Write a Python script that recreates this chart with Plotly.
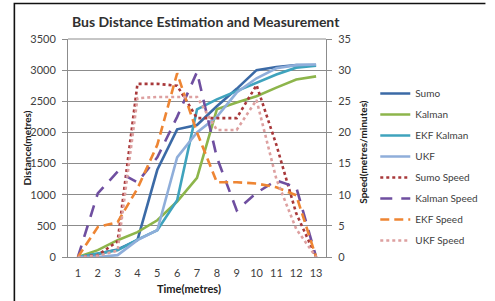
import plotly.graph_objects as go

time = list(range(1, 14))
tick_labels = [str(t) for t in time]

sumo = [0, 50, 120, 270, 1400, 2050, 2120, 2420, 2700, 3000, 3050, 3080, 3080]
kalman = [0, 110, 270, 400, 590, 890, 1270, 2370, 2480, 2580, 2720, 2850, 2900]
ekf_kalman = [0, 60, 110, 280, 430, 910, 2370, 2530, 2660, 2800, 2930, 3040, 3070]
ukf = [0, 0, 30, 270, 430, 1600, 2000, 2250, 2640, 2870, 3030, 3080, 3090]

sumo_speed = [0, 0.3, 2.5, 27.8, 27.8, 27.5, 22.3, 22.3, 22.3, 27.6, 18, 7, 0]
kalman_speed = [0, 10.2, 13.7, 12, 16, 22.5, 29.7, 16, 7.5, 10.3, 12.3, 11.2, 0]
ekf_speed = [0, 4.8, 5.6, 11, 18, 29.5, 20, 12, 12, 11.8, 11.2, 9.9, 0]
ukf_speed = [0, 0.2, 1, 25.5, 25.7, 25.7, 25.7, 20.4, 20.4, 25.2, 12.5, 4.5, 0]

FONT = "Lato"
W, H = 495, 301
ML, MR, MT, MB = 68, 160, 39, 44
PW = W - ML - MR
PH = H - MT - MB

def px_x(p):
    return (p - ML) / PW

def px_y(p):
    return (H - MB - p) / PH

fig = go.Figure()

dist_series = [
    ("Sumo", sumo, "#3B6AA6"),
    ("Kalman", kalman, "#8DB54B"),
    ("EKF Kalman", ekf_kalman, "#3FA3BD"),
    ("UKF", ukf, "#8FAEDA"),
]
speed_series = [
    ("Sumo Speed", sumo_speed, "#A8383A", "dot"),
    ("Kalman Speed", kalman_speed, "#6F4FA0", "12px,9px"),
    ("EKF Speed", ekf_speed, "#EE8533", "9px,5px"),
    ("UKF Speed", ukf_speed, "#DDA0A0", "dot"),
]

for name, vals, col in dist_series:
    fig.add_trace(go.Scatter(x=tick_labels, y=vals, name=name, mode="lines",
                             line=dict(color=col, width=2.6), yaxis="y",
                             legendgroup=name))
for name, vals, col, dash in speed_series:
    fig.add_trace(go.Scatter(x=tick_labels, y=vals, name=name, mode="lines",
                             line=dict(color=col, width=2.6, dash=dash), yaxis="y2",
                             legendgroup=name))

grid = "#8C8C8C"
fig.update_layout(
    width=W, height=H,
    margin=dict(l=ML, r=MR, t=MT, b=MB),
    paper_bgcolor="white", plot_bgcolor="white",
    font=dict(family=FONT, size=11, color="#404040"),
    showlegend=True,
    legend=dict(x=px_x(386), y=px_y(79), xanchor="left", yanchor="top",
                font=dict(family=FONT, size=10, color="#404040"),
                tracegroupgap=2, bgcolor="rgba(0,0,0,0)"),
    xaxis=dict(type="category", range=[-0.5, 12.5], showgrid=False,
               showline=True, linecolor=grid, linewidth=1, ticks="",
               tickfont=dict(size=11, color="#404040"), ticklabelstandoff=6),
    yaxis=dict(range=[0, 3500], dtick=500, showgrid=True, gridcolor=grid,
               gridwidth=1, showline=True, linecolor=grid, ticks="outside",
               ticklen=5, tickcolor=grid, zeroline=False,
               tickfont=dict(size=11, color="#404040"), ticklabelstandoff=4),
    yaxis2=dict(range=[0, 35], dtick=5, overlaying="y", side="right",
                showgrid=False, showline=True, linecolor=grid, ticks="outside",
                ticklen=5, tickcolor=grid, zeroline=False,
                tickfont=dict(size=11, color="#404040"), ticklabelstandoff=4),
)

# top border of plot area
fig.add_shape(type="line", xref="paper", yref="paper", x0=0, x1=1, y0=1, y1=1,
              line=dict(color=grid, width=1))

# outer black frame (cropped: left and top visible)
fig.add_shape(type="path", xref="paper", yref="paper",
              path=f"M {px_x(12.5)} {px_y(H+5)} L {px_x(12.5)} {px_y(3.5)} L {px_x(W+5)} {px_y(3.5)}",
              line=dict(color="#111111", width=1.6))

annots = [
    dict(text="<b>Bus Distance Estimation and Measurement</b>", x=px_x(211), y=px_y(22),
         font=dict(size=14, color="#303030"), textangle=0),
    dict(text="<b>Time(metres)</b>", x=px_x(193), y=px_y(288),
         font=dict(size=11, color="#202020"), textangle=0),
    dict(text="<b>Distance(metres)</b>", x=px_x(26), y=px_y(148),
         font=dict(size=10, color="#202020"), textangle=-90),
    dict(text="<b>Speed(metres/minutes)</b>", x=px_x(373), y=px_y(152),
         font=dict(size=10, color="#202020"), textangle=-90),
]
for a in annots:
    fig.add_annotation(xref="paper", yref="paper", showarrow=False,
                       xanchor="center", yanchor="middle",
                       font_family=FONT, **{k: v for k, v in a.items()})

fig.write_html("out.html", config={"displayModeBar": False},
               post_script="document.body.style.margin='0';document.body.style.overflow='hidden';")
